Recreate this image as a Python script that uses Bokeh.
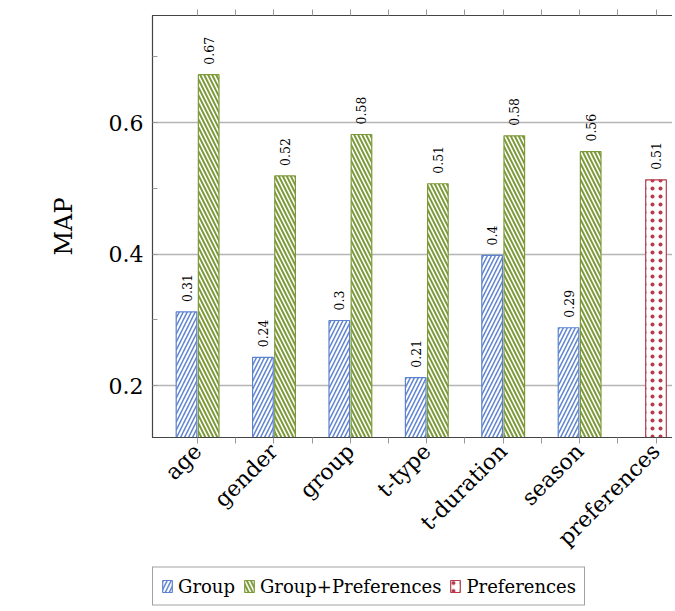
import math
from bokeh.plotting import figure
from bokeh.layouts import column
from bokeh.models import (FixedTicker, LinearAxis, Range1d, ColumnDataSource,
                          Legend, LegendItem)
from bokeh.transform import dodge
from bokeh.core.properties import value
from bokeh.embed import file_html
from bokeh.resources import INLINE

categories = ["age", "gender", "group", "t-type", "t-duration", "season", "preferences"]
group_vals = [0.312, 0.243, 0.299, 0.212, 0.398, 0.288]
group_pref_vals = [0.673, 0.519, 0.582, 0.507, 0.580, 0.556]
pref_vals = [0.513]
series_names = ["Group", "Group+Preferences", "Preferences"]
y_major = [0.2, 0.4, 0.6]
y_minor = [0.1, 0.3, 0.5, 0.7]

FONT = "DejaVu Serif"
BLUE = "#5d82cf"
GREEN = "#7d9a3a"
RED = "#b63a4c"


def fmt(v):
    return f"{round(v, 2):.2f}".rstrip("0").rstrip(".")


n = len(group_vals)
src_g = ColumnDataSource(dict(x=list(range(n)), top=group_vals,
                              lab=[fmt(v) for v in group_vals]))
src_gp = ColumnDataSource(dict(x=list(range(n)), top=group_pref_vals,
                               lab=[fmt(v) for v in group_pref_vals]))
src_p = ColumnDataSource(dict(x=[len(categories) - 1], top=pref_vals,
                              lab=[fmt(v) for v in pref_vals]))

p = figure(frame_width=544, frame_height=422, output_backend="svg",
           toolbar_location=None,
           x_range=Range1d(-0.59, 6.53), y_range=Range1d(0.121, 0.763),
           min_border_left=128, min_border_right=0, min_border_top=15,
           min_border_bottom=0)
p.xaxis.visible = False
p.yaxis.visible = False
p.outline_line_color = "#444444"
p.outline_line_width = 1.2
p.background_fill_color = "white"
p.border_fill_color = "white"

xt = FixedTicker(ticks=list(range(len(categories))),
                 minor_ticks=[i + 0.5 for i in range(len(categories))])
yt = FixedTicker(ticks=y_major, minor_ticks=y_minor)


def style_ticks(ax, tin, tout):
    ax.major_tick_in = tin
    ax.major_tick_out = tout
    ax.minor_tick_in = tin
    ax.minor_tick_out = tout
    ax.axis_line_color = "#444444"
    ax.major_tick_line_color = "#999999"
    ax.minor_tick_line_color = "#999999"


# bottom axis
xb = LinearAxis(ticker=xt)
xb.major_label_overrides = {i: c for i, c in enumerate(categories)}
xb.major_label_orientation = math.pi / 4
xb.major_label_text_font = FONT
xb.major_label_text_font_size = "22px"
xb.major_label_text_color = "black"
xb.major_label_standoff = 4
style_ticks(xb, 0, 6)
p.add_layout(xb, "below")

# top axis (ticks only)
xa = LinearAxis(ticker=xt)
xa.major_label_text_font_size = "1px"
xa.major_label_text_color = None
xa.major_label_standoff = 0
style_ticks(xa, 0, 6)
p.add_layout(xa, "above")

# left axis
yl = LinearAxis(ticker=yt)
yl.axis_label = "MAP"
yl.axis_label_text_font = FONT
yl.axis_label_text_font_size = "24px"
yl.axis_label_text_font_style = "normal"
yl.axis_label_text_color = "black"
yl.axis_label_standoff = 28
yl.major_label_text_font = FONT
yl.major_label_text_font_size = "22px"
yl.major_label_text_color = "black"
yl.major_label_standoff = 9
style_ticks(yl, 5, 0)
p.add_layout(yl, "left")

# right axis (ticks only)
yr = LinearAxis(ticker=yt)
yr.major_label_text_font_size = "1px"
yr.major_label_text_color = None
yr.major_label_standoff = 0
style_ticks(yr, 5, 0)
p.add_layout(yr, "right")

p.xgrid.visible = False
p.ygrid.ticker = yt
p.ygrid.grid_line_color = "#b5b5b5"
p.ygrid.grid_line_width = 1.3

BW = 0.27
STY_G = dict(fill_color="white", line_color=BLUE, line_width=1.2,
             hatch_pattern="/", hatch_color=BLUE, hatch_scale=8, hatch_weight=1.5)
STY_GP = dict(fill_color="white", line_color=GREEN, line_width=1.2,
              hatch_pattern="\\", hatch_color=GREEN, hatch_scale=8, hatch_weight=2.0)
STY_P = dict(fill_color="white", line_color=RED, line_width=1.2,
             hatch_pattern=".", hatch_color=RED, hatch_scale=8, hatch_weight=2.0)

p.vbar(x=dodge("x", -0.145, range=p.x_range), top="top", bottom=0.0,
       width=BW, source=src_g, **STY_G)
p.vbar(x=dodge("x", 0.145, range=p.x_range), top="top", bottom=0.0,
       width=BW, source=src_gp, **STY_GP)
p.vbar(x="x", top="top", bottom=0.0, width=BW, source=src_p, **STY_P)

for src, off in ((src_g, -0.145), (src_gp, 0.145), (src_p, 0.0)):
    p.text(x=dodge("x", off, range=p.x_range), y="top", text="lab", source=src,
           angle=math.pi / 2, text_align="left", text_baseline="middle",
           y_offset=-10, text_font=value(FONT), text_font_size="12.5px",
           text_color="black")

# legend in its own strip below the chart (its bars lie outside the view)
lf = figure(width=674, height=48, output_backend="svg", toolbar_location=None,
            x_range=Range1d(-0.59, 6.53), y_range=Range1d(2, 3),
            x_axis_location=None, y_axis_location=None,
            min_border_left=152, min_border_right=0, min_border_top=0,
            min_border_bottom=0)
lf.grid.visible = False
lf.outline_line_color = None
lf.border_fill_color = "white"
lf.background_fill_color = "white"

renderers = []
for sty, src in ((STY_G, src_g), (STY_GP, src_gp), (STY_P, src_p)):
    renderers.append(lf.vbar(x="x", top="top", bottom=0.0, width=BW,
                             source=src, **sty))

legend = Legend(items=[LegendItem(label=nm, renderers=[r], index=0)
                       for nm, r in zip(series_names, renderers)],
                orientation="horizontal", location="left")
legend.label_text_font = FONT
legend.label_text_font_size = "18px"
legend.label_text_color = "black"
legend.glyph_width = 12
legend.glyph_height = 15
legend.spacing = 8
legend.label_standoff = 5
legend.padding = 8
legend.margin = 0
legend.border_line_color = "#444444"
legend.border_line_width = 1.2
lf.add_layout(legend)

layout = column(p, lf, spacing=0)
open("out.html", "w").write(file_html(layout, INLINE))
